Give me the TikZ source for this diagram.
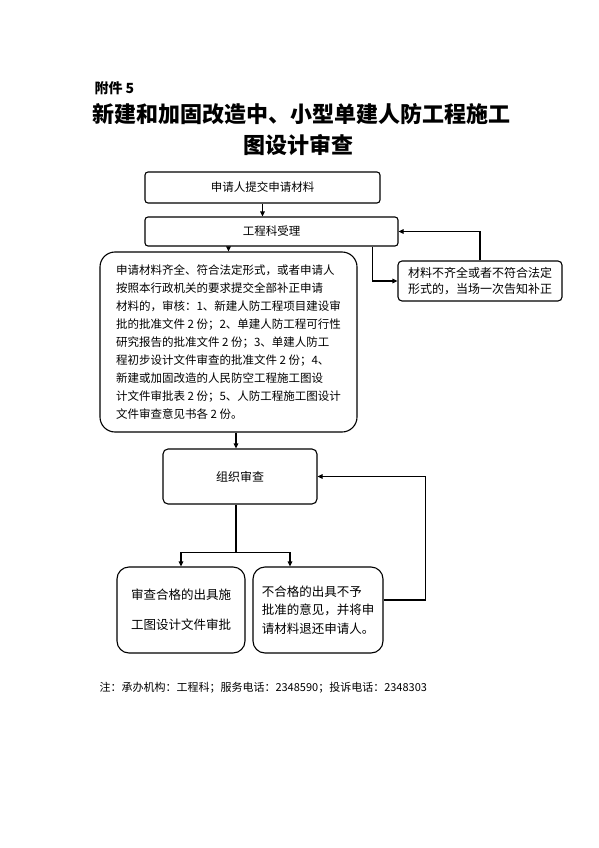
\documentclass[tikz,border=0pt]{standalone}
\usepackage{fontspec}
\setmainfont{Noto Sans CJK SC}
\usetikzlibrary{arrows.meta,calc}
\tikzset{
  box/.style={draw=black,line width=1.1pt,rounded corners=#1,inner sep=0pt,align=center},
  box/.default=4pt,
  line/.style={draw=black,line width=1.1pt},
  arr/.style={line,-{Triangle[length=5pt,width=4.5pt]}},
}
\begin{document}
\begin{tikzpicture}[x=1pt,y=-1pt]
\fill[white] (0,0) rectangle (599,848);
\useasboundingbox (0,0) rectangle (599,848);

\node[anchor=west,font=\fontsize{14}{16}\selectfont\bfseries] (att) at (91,88) {附件 5};
\node[font=\fontsize{22}{26}\selectfont\bfseries] (t1) at (301.5,114) {新建和加固改造中、小型单建人防工程施工};
\node[font=\fontsize{22}{26}\selectfont\bfseries] (t2) at (298,145) {图设计审查};

\node[box=3pt,minimum width=235pt,minimum height=31pt,font=\fontsize{11.5}{14}\selectfont] (b1) at (262.5,187.5) {申请人提交申请材料};
\node[box=3pt,minimum width=253pt,minimum height=29pt,font=\fontsize{11.5}{14}\selectfont] (b2) at (271.5,231.5) {工程科受理};

\node[box=15pt,minimum width=257pt,minimum height=180pt,align=left,font=\fontsize{11.5}{18.1}\selectfont] (b3) at (228.5,342) {申请材料齐全、符合法定形式，或者申请人\\
按照本行政机关的要求提交全部补正申请\\
材料的，审核：1、新建人防工程项目建设审\\
批的批准文件 2 份；2、单建人防工程可行性\\
研究报告的批准文件 2 份；3、单建人防工\\
程初步设计文件审查的批准文件 2 份；4、\\
新建或加固改造的人民防空工程施工图设\\
计文件审批表 2 份；5、人防工程施工图设计\\
文件审查意见书各 2 份。};

\node[box=4pt,minimum width=164pt,minimum height=40pt,align=left,font=\fontsize{12}{15.5}\selectfont] (r) at (480,281) {材料不齐全或者不符合法定\\形式的，当场一次告知补正};

\node[box=5pt,minimum width=154pt,minimum height=55pt,font=\fontsize{12}{14}\selectfont] (b4) at (240,476.5) {组织审查};

\node[box=12pt,minimum width=128pt,minimum height=86pt,font=\fontsize{12.5}{30}\selectfont] (b5) at (181,610) {审查合格的出具施\\工图设计文件审批};
\node[box=12pt,minimum width=130pt,minimum height=86pt,align=left,font=\fontsize{12.5}{18.5}\selectfont] (b6) at (318,610) {不合格的出具不予\\批准的意见，并将申\\请材料退还申请人。};

\node[anchor=west,font=\fontsize{11}{13}\selectfont] (note) at (96,688) {注：承办机构：工程科；服务电话：2348590；投诉电话：2348303};

% connectors
\draw[arr] (b1.south) -- (b1.south |- b2.north);
\draw[arr] (b2.south -| b3.north) -- (b3.north);
\draw[arr] ([xshift=-26pt]b2.south east) |- (r.west);
\draw[arr] (r.north) |- (b2.east);
\draw[arr] ([xshift=-4pt]b4.north |- b3.south) -- ([xshift=-4pt]b4.north);
\coordinate (sp) at ($(b4.south)+(-4,48)$);
\draw[line] ([xshift=-4pt]b4.south) -- (sp);
\draw[arr] (sp) -| (b5.north);
\draw[arr] (sp) -| ([xshift=-28pt]b6.north);
\coordinate (fb) at ($(b6.east)+(42,-10)$);
\draw[line] ([yshift=10pt]b6.east) -- (fb);
\draw[arr] (fb) |- (b4.east);
\end{tikzpicture}
\end{document}
